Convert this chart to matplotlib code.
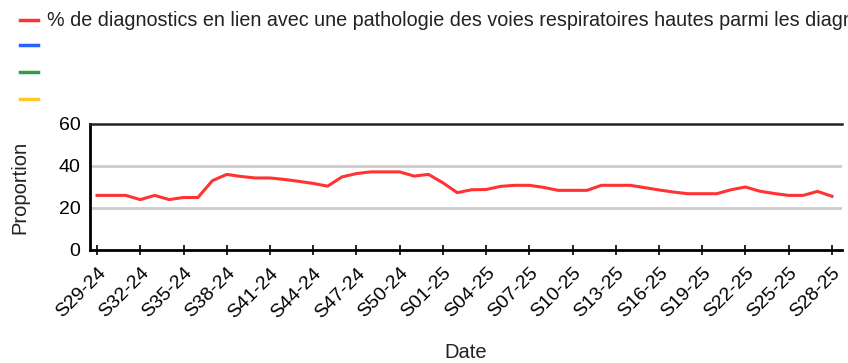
import matplotlib
matplotlib.use("Agg")
import matplotlib.pyplot as plt
from matplotlib.lines import Line2D

plt.rcParams['font.family'] = ['Liberation Sans', 'DejaVu Sans']

# Weekly labels: S29-24 .. S52-24, then S01-25 .. S28-25
weeks = [f"S{w:02d}-24" for w in range(29, 53)] + [f"S{w:02d}-25" for w in range(1, 29)]

# Share of upper respiratory tract diagnoses (%)
values = [
    26, 26, 26, 24, 26, 24, 25, 25, 33, 36,
    35, 34.3, 34.3, 33.6, 32.7, 31.7, 30.4, 34.8, 36.4, 37.2,
    37.2, 37.2, 35.2, 36, 32, 27.3, 28.7, 28.8, 30.3, 30.8,
    30.8, 29.8, 28.4, 28.4, 28.4, 30.8, 30.8, 30.8, 29.7, 28.6,
    27.6, 26.8, 26.8, 26.8, 28.7, 30, 28, 26.9, 26, 26,
    27.9, 25.6,
]

series_labels = [
    "% de diagnostics en lien avec une pathologie des voies respiratoires hautes parmi les diagnostics codés",
    "", "", "",
]
series_colors = ["#ff3333", "#2962ff", "#2e9e4a", "#ffc728"]

W, H = 848, 363
fig = plt.figure(figsize=(W / 100, H / 100), dpi=100)
ax = fig.add_axes([90 / W, 1 - 250 / H, (842 - 90) / W, (250 - 124) / H])

x = list(range(len(weeks)))
ax.plot(x, values, color=series_colors[0], lw=2.2, solid_joinstyle='round', zorder=3)

ax.set_ylim(0, 60)
ax.set_xlim(-0.49, 51.7)
ax.set_yticks([0, 20, 40, 60])
ax.set_yticklabels(["0", "20", "40", "60"], fontsize=14)
for yv in (20, 40):
    ax.axhline(yv, color="#cccccc", lw=2, zorder=1)

tick_pos = x[::3]
ax.set_xticks(tick_pos)
ax.set_xticklabels([weeks[i] for i in tick_pos], rotation=45, ha='right',
                   rotation_mode='anchor', fontsize=14)
ax.tick_params(axis='x', direction='inout', length=7, width=1.2, color='black', pad=7)
ax.tick_params(axis='y', length=0, pad=7)

for side in ('left', 'bottom'):
    ax.spines[side].set_linewidth(2)
    ax.spines[side].set_color('black')
ax.spines['top'].set_linewidth(1.8)
ax.spines['top'].set_color('#222222')
ax.spines['right'].set_visible(False)

fig.text(20 / W, 1 - 187 / H, "Proportion", rotation=90, fontsize=14.5,
         color="#222222", ha='center', va='center')
fig.text(466 / W, 1 - 352 / H, "Date", fontsize=14.5, color="#222222",
         ha='center', va='center')

# Legend entries
legend_y = [20, 45, 72, 99]
for lbl, col, yp in zip(series_labels, series_colors, legend_y):
    yf = 1 - yp / H
    fig.add_artist(Line2D([20 / W, 38 / W], [yf, yf], color=col, lw=2.5,
                          transform=fig.transFigure))
    if lbl:
        fig.text(47 / W, yf, lbl, fontsize=14.2, color="#222222",
                 ha='left', va='center')

fig.savefig("out.png", dpi=100)
